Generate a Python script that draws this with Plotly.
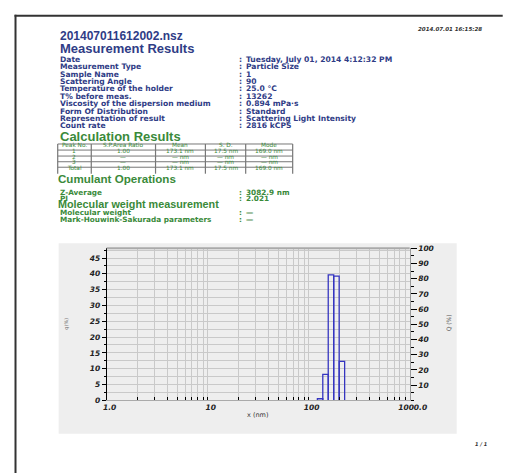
import plotly.graph_objects as go

W, H = 513, 473

# ---- particle size distribution (histogram, q %) ----
bin_edges = [122.0, 138.0, 156.2, 177.0, 200.4, 227.0]
q_percent = [0.5, 8.2, 39.7, 39.3, 12.3]

x_major = [1, 10, 100, 1000]
x_major_text = ["1.0", "10", "100", "1000.0"]
y_right_ticks = [10, 20, 30, 40, 50, 60, 70, 80, 90, 100]

# ---- report text ----
file_name = "201407011612002.nsz"
print_stamp = "2014.07.01 16:15:28"
page_no = "1 / 1"

info_labels = ["Date", "Measurement Type", "Sample Name", "Scattering Angle",
               "Temperature of the holder", "T% before meas.",
               "Viscosity of the dispersion medium", "Form Of Distribution",
               "Representation of result", "Count rate"]
info_values = ["Tuesday, July 01, 2014 4:12:32 PM", "Particle Size", "1", "90",
               "25.0 \u00b0C", "13262", "0.894 mPa\u00b7s", "Standard",
               "Scattering Light Intensity", "2816 kCPS"]

table_header = ["Peak No.", "S.P.Area Ratio", "Mean", "S. D.", "Mode"]
table_rows = [["1", "1.00", "173.1 nm", "17.5 nm", "169.0 nm"],
              ["2", "\u2014", "\u2014 nm", "\u2014 nm", "\u2014 nm"],
              ["3", "\u2014", "\u2014 nm", "\u2014 nm", "\u2014 nm"],
              ["Total", "1.00", "173.1 nm", "17.5 nm", "169.0 nm"]]

cumulant_labels = ["Z-Average", "PI"]
cumulant_values = ["3082.9 nm", "2.021"]
mw_labels = ["Molecular weight", "Mark-Houwink-Sakurada parameters"]
mw_values = ["\u2014", "\u2014"]

NAVY = "#2f3c86"
GREEN = "#3a8a3a"
GRID = "#c9c9c9"
HEAD_FONT = "Liberation Sans"
BODY_FONT = "DejaVu Sans"


def px(x):
    return x / W


def py(y):
    return 1 - y / H


annotations = []
shapes = []


def text(x, y, s, size, color, family=BODY_FONT, anchor="left", weight="bold",
         style="normal", angle=0):
    # annotation boxes carry a little padding; nudge so the glyphs land on (x, y)
    dx = -3 if anchor == "left" else (3 if anchor == "right" else 0)
    annotations.append(dict(
        x=px(x + dx), y=py(y - 2.5), xref="paper", yref="paper", text=s,
        showarrow=False, xanchor=anchor, yanchor="middle", textangle=angle,
        font=dict(family=family, size=size, color=color, weight=weight, style=style)))


def line(x0, y0, x1, y1, color, width=1):
    shapes.append(dict(type="line", xref="paper", yref="paper",
                       x0=px(x0), y0=py(y0), x1=px(x1), y1=py(y1),
                       line=dict(color=color, width=width)))


# page frame
line(12, 11, 12, 480, "#333333", 2)
line(11, 12, 520, 12, "#333333", 2)

# header block
text(498, 28, print_stamp, 5.5, "#333333", anchor="right", style="italic")
text(59, 35, file_name, 12, NAVY, family=HEAD_FONT)
text(59, 48, "Measurement Results", 13, NAVY, family=HEAD_FONT)

row_y0, row_dy = 58.8, 7.55
for i, (lab, val) in enumerate(zip(info_labels, info_values)):
    y = row_y0 + i * row_dy
    text(59, y, lab, 7.6, NAVY)
    text(246, y, ":", 7.6, NAVY)
    text(253, y, val, 7.6, NAVY)

# calculation results table
text(59, 137.5, "Calculation Results", 13, GREEN, family=HEAD_FONT)
col_edges = [56, 91, 158, 210, 252, 301]
row_edges = [142.7, 148.9, 155.0, 160.8, 166.4]
table_bottom = 173.0
for y in row_edges:
    line(col_edges[0], y, col_edges[-1], y, "#777777", 1)
for x in col_edges:
    line(x, row_edges[0], x, table_bottom, "#777777", 1.2)
cell_rows = [table_header] + table_rows
cell_y = [145.9, 152.0, 158.0, 163.7, 169.6]
for r, cells in enumerate(cell_rows):
    for c, s in enumerate(cells):
        cx = (col_edges[c] + col_edges[c + 1]) / 2
        text(cx, cell_y[r], s, 5.8, GREEN, anchor="center", weight="normal")

# cumulant operations
text(57, 180.3, "Cumulant Operations", 11.6, GREEN, family=HEAD_FONT)
for i, (lab, val) in enumerate(zip(cumulant_labels, cumulant_values)):
    y = 194.6 + i * 6.0
    text(59, y, lab, 7.3, GREEN)
    text(246, y, ":", 7.3, GREEN)
    text(253, y, val, 7.3, GREEN)

text(57, 206.8, "Molecular weight measurement", 10.8, GREEN, family=HEAD_FONT)
for i, (lab, val) in enumerate(zip(mw_labels, mw_values)):
    y = 215.2 + i * 6.8
    text(59, y, lab, 7.3, GREEN)
    text(246, y, ":", 7.3, GREEN)
    text(253, y, val, 7.3, GREEN)

# chart panel background
shapes.append(dict(type="rect", xref="paper", yref="paper", layer="below",
                   x0=px(57), x1=px(472), y0=py(438), y1=py(244),
                   fillcolor="#eeeeee", line=dict(width=0)))

# plot top border
line(107, 249, 423, 249, "#aaaaaa", 2)

# axis titles / page number
text(264, 421, "x (nm)", 6.5, "#333333", weight="normal", anchor="center")
text(65, 328, "q(%)", 5, "#777777", weight="normal", anchor="center", angle=-90)
text(463, 328, "Q (%)", 6, "#555555", weight="normal", anchor="center", angle=-90)
text(497, 451, page_no, 5, "#333333", anchor="center", style="italic")

fig = go.Figure()

# histogram bars as outlined rectangles
for left, right, h in zip(bin_edges[:-1], bin_edges[1:], q_percent):
    fig.add_trace(go.Scatter(
        x=[left, left, right, right], y=[0, h, h, 0], mode="lines",
        line=dict(color="#3535c0", width=1.3), hoverinfo="skip", showlegend=False))

# anchor trace for the cumulative (right) axis
fig.add_trace(go.Scatter(x=[100], y=[0], yaxis="y2", mode="markers",
                         marker=dict(opacity=0), hoverinfo="skip", showlegend=False))

x_ticks = []
x_text = []
for decade in [1, 10, 100]:
    for m in range(1, 10):
        v = decade * m
        x_ticks.append(v)
        x_text.append(x_major_text[x_major.index(v)] if v in x_major else "")
x_ticks.append(1000)
x_text.append(x_major_text[-1])

tick_font = dict(family=BODY_FONT, size=7.5, color="#222222", style="italic", weight="bold")

fig.update_layout(
    width=W, height=H, margin=dict(l=0, r=0, t=0, b=0),
    paper_bgcolor="white", plot_bgcolor="white",
    showlegend=False,
    annotations=annotations, shapes=shapes,
    xaxis=dict(
        type="log", range=[0, 3], domain=[px(107), px(423)],
        tickmode="array", tickvals=x_ticks, ticktext=x_text,
        ticks="inside", ticklen=3, tickcolor="#000000", tickwidth=1,
        showgrid=True, gridcolor=GRID, gridwidth=1,
        showline=True, linecolor="#aaaaaa", linewidth=1,
        tickfont=tick_font, ticklabelshift=3, zeroline=False,
    ),
    yaxis=dict(
        range=[0, 48.1], domain=[py(404), py(249)],
        tickmode="linear", tick0=0, dtick=5,
        ticks="outside", ticklen=4, tickcolor="#000000",
        showgrid=True, gridcolor=GRID, gridwidth=1,
        minor=dict(dtick=2.5, tick0=0, ticks="outside", ticklen=2,
                   tickcolor="#000000", showgrid=True, gridcolor=GRID),
        showline=True, linecolor="#000000", linewidth=1,
        tickfont=tick_font, zeroline=False,
    ),
    yaxis2=dict(
        range=[0, 100], overlaying="y", side="right", anchor="x",
        tickmode="array", tickvals=y_right_ticks,
        ticks="outside", ticklen=6, tickcolor="#000000",
        minor=dict(tick0=0, dtick=5, ticks="outside", ticklen=3, tickcolor="#000000"),
        showgrid=False, showline=True, linecolor="#999999", linewidth=1,
        tickfont=tick_font, zeroline=False,
    ),
)

fig.write_html("out.html")
